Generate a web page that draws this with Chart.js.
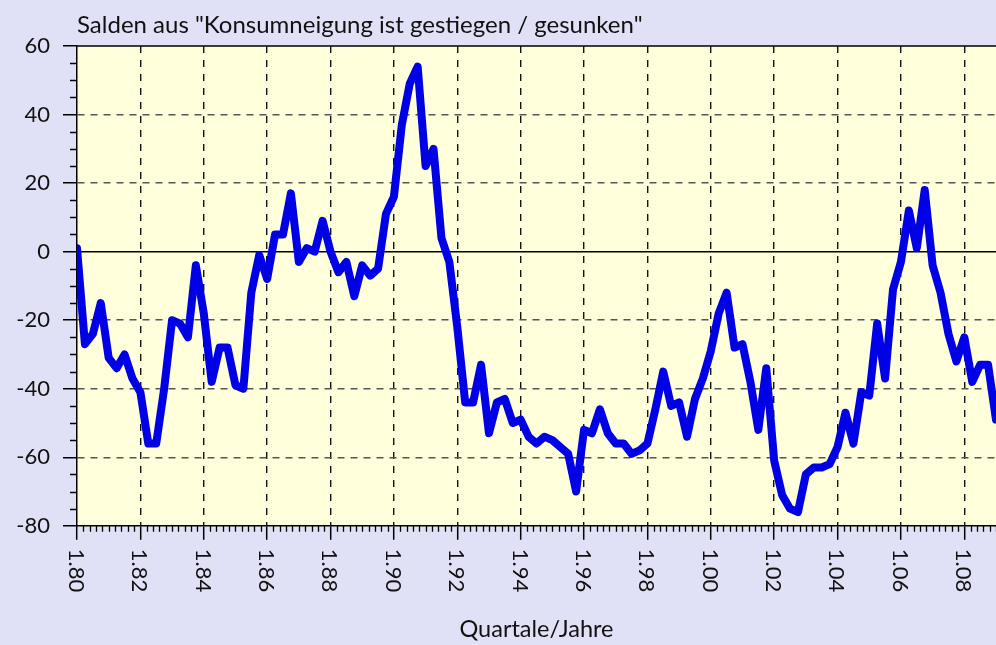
<!DOCTYPE html>
<html>
<head>
<meta charset="utf-8">
<script src="https://cdn.jsdelivr.net/npm/chart.js@4.4.1/dist/chart.umd.min.js"></script>
<style>
  body { margin: 0; background: #e0e0f6; }
  canvas { display: block; }
</style>
</head>
<body>
<canvas id="Chart" width="996" height="645"></canvas>
<script>
const titleText = 'Salden aus "Konsumneigung ist gestiegen / gesunken"';
const axisTitle = 'Quartale/Jahre';

// Beschriftungen der Hauptstriche (alle 8 Quartale)
const tickLabels = ['1.80', '1.82', '1.84', '1.86', '1.88', '1.90', '1.92', '1.94', '1.96', '1.98',
    '1.00', '1.02', '1.04', '1.06', '1.08'];

// Salden je Quartal, ab 1.80
const salden = [
    1, -27, -24, -15, -31, -34, -30, -37, -41, -56,
    -56, -40, -20, -21, -25, -4, -18, -38, -28, -28,
    -39, -40, -12, -1, -8, 5, 5, 17, -3, 1,
    0, 9, 0, -6, -3, -13, -4, -7, -5, 11,
    16, 37, 49, 54, 25, 30, 4, -3, -22, -44,
    -44, -33, -53, -44, -43, -50, -49, -54, -56, -54,
    -55, -57, -59, -70, -52, -53, -46, -53, -56, -56,
    -59, -58, -56, -46, -35, -45, -44, -54, -43, -37,
    -29, -18, -12, -28, -27, -38, -52, -34, -61, -71,
    -75, -76, -65, -63, -63, -62, -57, -47, -56, -41,
    -42, -21, -37, -11, -3, 12, 1, 18, -4, -12,
    -24, -32, -25, -38, -33, -33, -49
];

const font = 'Lato';

const deko = {
    id: 'deko',
    beforeDraw(chart) {
        const {ctx, chartArea: a} = chart;
        ctx.save();
        ctx.fillStyle = '#e0e0f6';
        ctx.fillRect(0, 0, chart.width, chart.height);
        ctx.fillStyle = '#ffffdc';
        ctx.fillRect(a.left, a.top, a.right - a.left, a.bottom - a.top);
        ctx.restore();
    },
    beforeDatasetsDraw(chart) {
        const {ctx, chartArea: a} = chart;
        const y0 = chart.scales.y.getPixelForValue(0);
        ctx.save();
        ctx.strokeStyle = '#000';
        ctx.lineWidth = 1.5;
        ctx.beginPath();
        ctx.moveTo(a.left, y0);
        ctx.lineTo(a.right, y0);
        ctx.moveTo(a.left, a.top);
        ctx.lineTo(a.right, a.top);
        ctx.stroke();
        ctx.restore();
    },
    afterDraw(chart) {
        const {ctx, chartArea: a} = chart;
        const xs = chart.scales.x, ys = chart.scales.y;
        ctx.save();
        ctx.strokeStyle = '#000';
        ctx.lineWidth = 1.3;
        ctx.beginPath();
        // kleine Striche unten
        for (let k = 1; k * 0.8 <= xs.max; k++) {
            if (k % 10 === 0) continue;
            const px = Math.round(xs.getPixelForValue(k * 0.8)) + 0.5;
            ctx.moveTo(px, a.bottom);
            ctx.lineTo(px, a.bottom + 6);
        }
        // kleine Striche links
        for (let v = ys.min; v <= ys.max; v += 5) {
            if (v % 20 === 0) continue;
            const py = Math.round(ys.getPixelForValue(v)) + 0.5;
            ctx.moveTo(a.left - 7, py);
            ctx.lineTo(a.left, py);
        }
        ctx.stroke();

        // gedrehte Jahresbeschriftung
        ctx.fillStyle = '#111';
        ctx.font = '22px ' + font;
        ctx.textAlign = 'left';
        ctx.textBaseline = 'middle';
        xs.ticks.forEach(t => {
            const px = xs.getPixelForValue(t.value);
            ctx.save();
            ctx.translate(px - 1, a.bottom + 23);
            ctx.rotate(Math.PI / 2);
            ctx.fillText(t.label, 0, 0);
            ctx.restore();
        });

        // Überschrift
        ctx.font = '24px ' + font;
        ctx.textBaseline = 'alphabetic';
        ctx.fillText(titleText, a.left, 33);
        ctx.restore();
    }
};

const canvas = document.getElementById('Chart');
const chart = new Chart(canvas.getContext('2d'), {
    type: 'line',
    data: {
        datasets: [{
            label: 'Salden',
            data: salden.map((v, i) => ({x: i, y: v})),
            borderColor: '#0000e6',
            borderWidth: 8,
            borderJoinStyle: 'round',
            borderCapStyle: 'round',
            pointRadius: 0,
            tension: 0,
            fill: false
        }]
    },
    options: {
        responsive: false,
        animation: false,
        layout: {padding: {top: 46, right: 0, left: 0, bottom: 0}},
        plugins: {
            legend: {display: false},
            tooltip: {enabled: false}
        },
        scales: {
            x: {
                type: 'linear',
                min: 0,
                max: salden.length - 1,
                afterBuildTicks: s => { s.ticks = tickLabels.map((l, i) => ({value: i * 8})); },
                ticks: {
                    display: false,
                    callback: v => tickLabels[v / 8]
                },
                grid: {
                    color: c => (c.tick && c.tick.value === 0) ? 'transparent' : '#111',
                    lineWidth: 1.4,
                    tickColor: '#000',
                    tickLength: 14,
                    tickWidth: 1.5
                },
                border: {display: true, color: '#000', width: 1.5, dash: [7, 7]},
                title: {
                    display: true,
                    text: axisTitle,
                    color: '#111',
                    font: {family: font, size: 23.5},
                    padding: {top: 76, bottom: 1}
                }
            },
            y: {
                min: -80,
                max: 60,
                afterFit: s => { s.width = 77; },
                ticks: {
                    stepSize: 20,
                    color: '#111',
                    padding: 13,
                    font: {family: font, size: 22}
                },
                grid: {
                    color: c => (c.tick && (c.tick.value === 0 || c.tick.value === 60 || c.tick.value === -80)) ? 'transparent' : '#555',
                    lineWidth: 1.5,
                    tickColor: '#000',
                    tickLength: 14,
                    tickWidth: 1.5
                },
                border: {display: true, color: '#000', width: 1.5, dash: [7, 6]}
            }
        }
    },
    plugins: [deko]
});
</script>
</body>
</html>
